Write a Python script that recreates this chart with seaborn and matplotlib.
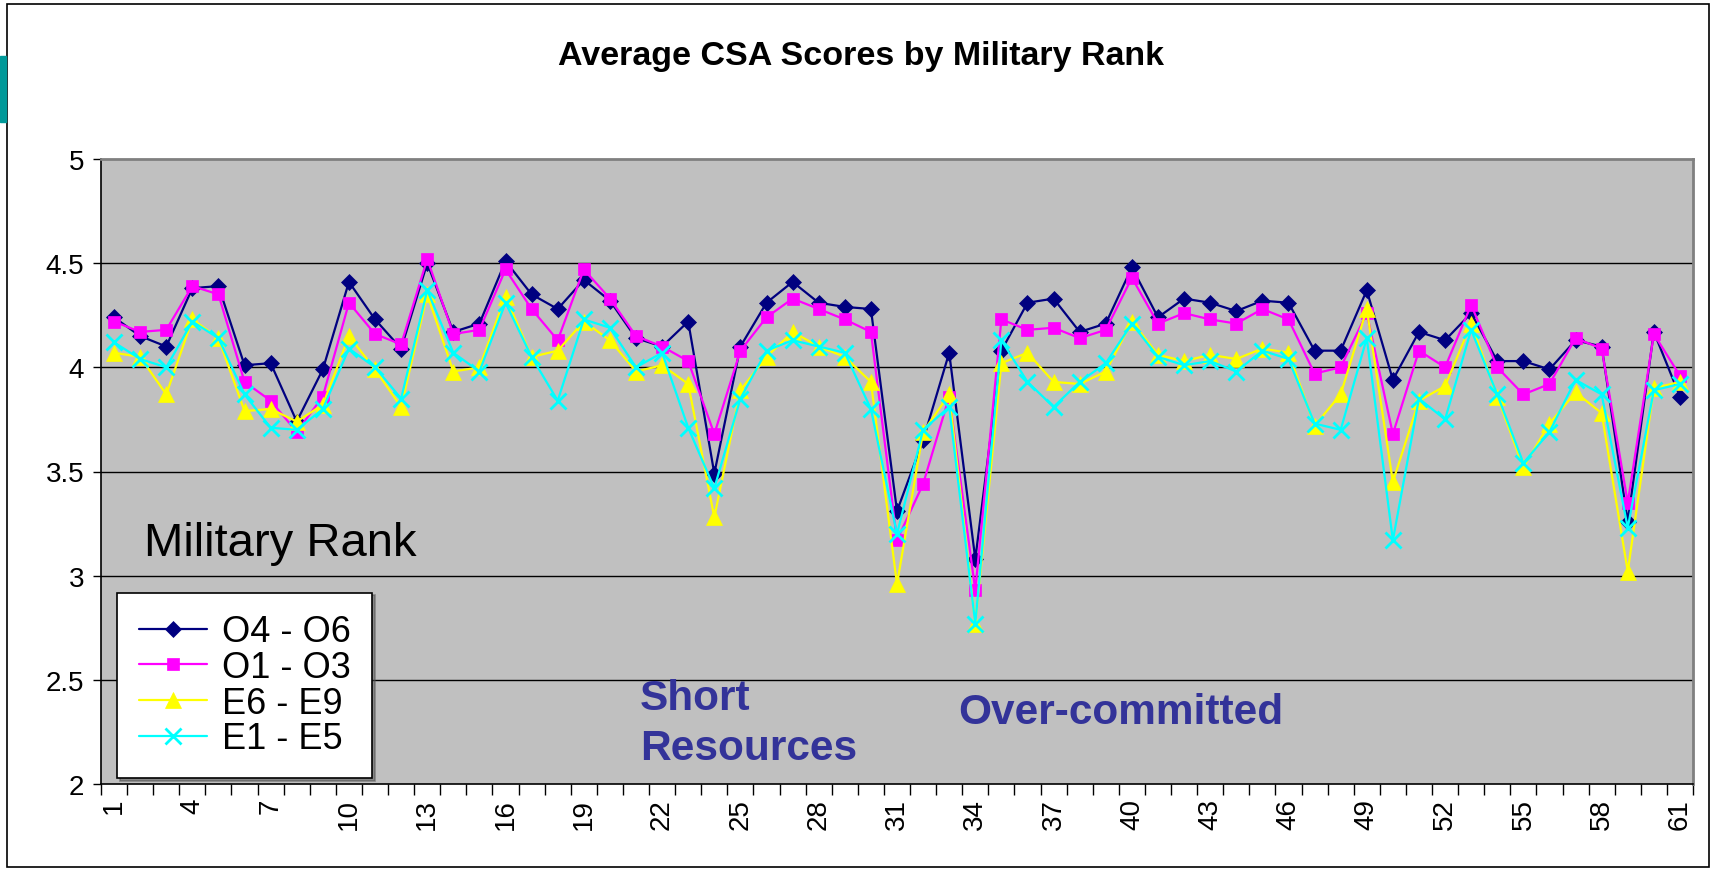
import numpy as np
import pandas as pd
import matplotlib
matplotlib.use("Agg")
import matplotlib.pyplot as plt
import seaborn as sns
from matplotlib.patches import Rectangle
from matplotlib.ticker import FixedLocator

# -----------------------------------
# Data
# -----------------------------------
ranks = list(range(1, 62))

o4_o6 = [4.24, 4.15, 4.10, 4.38, 4.39, 4.01, 4.02, 3.74, 3.99, 4.41,
         4.23, 4.09, 4.50, 4.17, 4.21, 4.51, 4.35, 4.28, 4.42, 4.32,
         4.14, 4.10, 4.22, 3.49, 4.10, 4.31, 4.41, 4.31, 4.29, 4.28,
         3.31, 3.65, 4.07, 3.08, 4.08, 4.31, 4.33, 4.17, 4.21, 4.48,
         4.24, 4.33, 4.31, 4.27, 4.32, 4.31, 4.08, 4.08, 4.37, 3.94,
         4.17, 4.13, 4.26, 4.03, 4.03, 3.99, 4.13, 4.10, 3.26, 4.17,
         3.86]

o1_o3 = [4.22, 4.17, 4.18, 4.39, 4.35, 3.93, 3.84, 3.69, 3.86, 4.31,
         4.16, 4.11, 4.52, 4.16, 4.18, 4.47, 4.28, 4.13, 4.47, 4.33,
         4.15, 4.10, 4.03, 3.68, 4.08, 4.24, 4.33, 4.28, 4.23, 4.17,
         3.17, 3.44, 3.86, 2.93, 4.23, 4.18, 4.19, 4.14, 4.18, 4.43,
         4.21, 4.26, 4.23, 4.21, 4.28, 4.23, 3.97, 4.00, 4.26, 3.68,
         4.08, 4.00, 4.30, 4.00, 3.87, 3.92, 4.14, 4.09, 3.35, 4.16,
         3.96]

e6_e9 = [4.07, 4.05, 3.87, 4.23, 4.14, 3.79, 3.80, 3.74, 3.82, 4.15,
         3.99, 3.81, 4.35, 3.98, 4.00, 4.34, 4.05, 4.08, 4.22, 4.13,
         3.98, 4.01, 3.92, 3.28, 3.89, 4.05, 4.17, 4.10, 4.05, 3.93,
         2.96, 3.69, 3.87, 2.77, 4.02, 4.07, 3.93, 3.92, 3.98, 4.22,
         4.06, 4.03, 4.06, 4.04, 4.09, 4.07, 3.72, 3.87, 4.28, 3.45,
         3.84, 3.91, 4.21, 3.86, 3.52, 3.73, 3.88, 3.78, 3.02, 3.90,
         3.93]

e1_e5 = [4.12, 4.04, 4.00, 4.22, 4.14, 3.87, 3.71, 3.70, 3.80, 4.09,
         4.00, 3.85, 4.37, 4.07, 3.98, 4.31, 4.05, 3.84, 4.23, 4.19,
         4.00, 4.07, 3.71, 3.42, 3.85, 4.08, 4.13, 4.10, 4.07, 3.80,
         3.20, 3.70, 3.81, 2.77, 4.13, 3.93, 3.81, 3.93, 4.02, 4.21,
         4.05, 4.01, 4.03, 3.98, 4.08, 4.04, 3.73, 3.70, 4.14, 3.17,
         3.85, 3.75, 4.18, 3.87, 3.54, 3.69, 3.94, 3.87, 3.23, 3.89,
         3.92]

series_names = ["O4 - O6", "O1 - O3", "E6 - E9", "E1 - E5"]
series_colors = ["#000080", "#FF00FF", "#FFFF00", "#00FFFF"]
series_markers = ["D", "s", "^", "x"]
series_sizes = [8, 9, 11, 11]

y_ticks = [2, 2.5, 3, 3.5, 4, 4.5, 5]
y_tick_labels = ["2", "2.5", "3", "3.5", "4", "4.5", "5"]
x_tick_labels = [str(r) for r in ranks[::3]]

# -----------------------------------
# Figure
# -----------------------------------
sns.set_style("white")
plt.rcParams["font.family"] = ["Liberation Sans", "DejaVu Sans"]
plt.rcParams["text.color"] = "black"
plt.rcParams["xtick.color"] = "black"
plt.rcParams["ytick.color"] = "black"

W, H = 1715, 870
fig = plt.figure(figsize=(W / 100, H / 100), dpi=100)


def fx(px):
    return px / W


def fy(py):
    return 1 - py / H


# outer chart frame and slide accent
fig.patches.append(Rectangle((fx(7), fy(868)), fx(1709) - fx(7), fy(5) - fy(868),
                             transform=fig.transFigure, fill=False,
                             edgecolor="black", linewidth=1.2))
fig.patches.append(Rectangle((0, fy(123)), fx(6), fy(57) - fy(123),
                             transform=fig.transFigure, color="#009999"))

ax = fig.add_axes([fx(101), fy(785), fx(1693) - fx(101), fy(160) - fy(785)])
ax.set_facecolor("#C0C0C0")

for yv in y_ticks[1:-1]:
    ax.axhline(yv, color="black", linewidth=1, zorder=1)

values = [o4_o6, o1_o3, e6_e9, e1_e5]
for name, vals, col, mk, ms in zip(series_names, values, series_colors,
                                   series_markers, series_sizes):
    sns.lineplot(x=ranks, y=vals, ax=ax, color=col, marker=mk,
                 markersize=ms, markeredgecolor=col,
                 markeredgewidth=2 if mk == "x" else 0.5,
                 linewidth=1.6, label=name, zorder=3)

ax.set_xlim(0.5, 61.5)
ax.set_ylim(2, 5)
ax.set_xlabel("")
ax.set_ylabel("")

ax.xaxis.set_major_locator(FixedLocator(ranks[::3]))
ax.set_xticklabels(x_tick_labels, rotation=90, fontsize=20, color="black")
ax.xaxis.set_minor_locator(FixedLocator(np.arange(0.5, 62, 1)))
ax.tick_params(axis="x", which="major", length=0, pad=10)
ax.tick_params(axis="x", which="minor", length=8, width=1, color="black",
               direction="out", bottom=True)

ax.set_yticks(y_ticks)
ax.set_yticklabels(y_tick_labels, fontsize=20, color="black")
ax.tick_params(axis="y", which="major", length=6, width=1, color="black",
               direction="out", left=True, pad=6)

for side in ["left", "bottom"]:
    ax.spines[side].set_color("black")
    ax.spines[side].set_linewidth(1.2)
for side in ["top", "right"]:
    ax.spines[side].set_color("#808080")
    ax.spines[side].set_linewidth(2)

leg = ax.legend(loc="lower left", bbox_to_anchor=(fx(117), fy(779)),
                bbox_transform=fig.transFigure, borderaxespad=0,
                frameon=True, fancybox=False, shadow=True, framealpha=1,
                prop={"size": 26},
                handlelength=1.9, labelspacing=0.02, borderpad=0.6,
                handletextpad=0.4)
leg.get_frame().set_edgecolor("black")
leg.get_frame().set_linewidth(1.2)
for t in leg.get_texts():
    t.set_color("black")

fig.text(fx(861), fy(57), "Average CSA Scores by Military Rank",
         ha="center", va="center", fontsize=24.5, fontweight="bold",
         color="black")
fig.text(fx(144), fy(544), "Military Rank", ha="left", va="center",
         fontsize=34, color="black")

fig.text(fx(640), fy(724), "Short\nResources", ha="left", va="center",
         fontsize=30.5, fontweight="bold", color="#333399",
         linespacing=1.32)
fig.text(fx(958), fy(713), "Over-committed", ha="left", va="center",
         fontsize=30.5, fontweight="bold", color="#333399")

plt.savefig("out.png", dpi=100)
plt.close()
